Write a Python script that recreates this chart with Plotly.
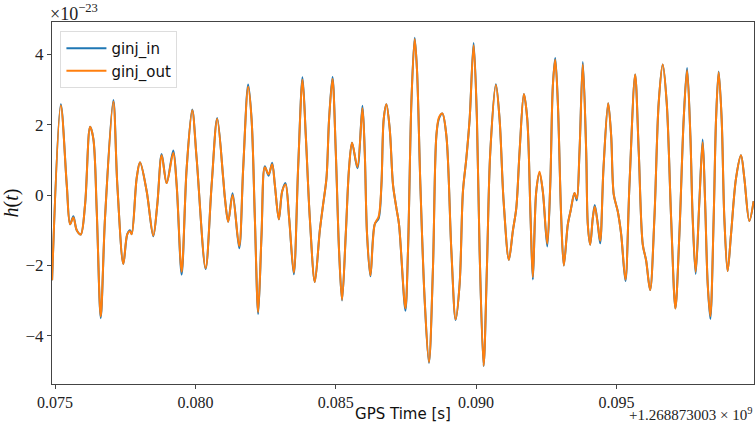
import plotly.graph_objects as go

# GPS time offset from 1268873003 s
t = [0.074893, 0.075203, 0.075416, 0.075534, 0.075651, 0.075772, 0.075915, 0.076068, 0.076246, 0.076363,
     0.076484, 0.076626, 0.076779, 0.077075, 0.077217, 0.077431, 0.077573, 0.077669, 0.07773, 0.077907,
     0.078025, 0.078263, 0.078498, 0.078641, 0.078797, 0.078975, 0.07921, 0.079331, 0.079509, 0.079687,
     0.079886, 0.080043, 0.080363, 0.080577, 0.080776, 0.080989, 0.08105, 0.081167, 0.081324, 0.081559,
     0.081701, 0.081879, 0.082, 0.082117, 0.082235, 0.082356, 0.082473, 0.082605, 0.082733, 0.082829,
     0.082972, 0.083089, 0.08321, 0.083338, 0.083505, 0.083658, 0.083815, 0.083932, 0.084075, 0.084253,
     0.084431, 0.084548, 0.084669, 0.084762, 0.084883, 0.085, 0.085117, 0.085224, 0.085356, 0.085473,
     0.08558, 0.085772, 0.08595, 0.086032, 0.086114, 0.086235, 0.086388, 0.08653, 0.086626, 0.086708,
     0.086804, 0.086922, 0.087039, 0.08716, 0.087253, 0.08748, 0.087573, 0.087694, 0.087811, 0.087893,
     0.088014, 0.088167, 0.08832, 0.088463, 0.088584, 0.088676, 0.088797, 0.08894, 0.089118, 0.08927,
     0.089413, 0.08953, 0.089651, 0.089769, 0.089911, 0.090029, 0.090124, 0.090267, 0.090385, 0.090505,
     0.090705, 0.090836, 0.090979, 0.091167, 0.09131, 0.091431, 0.091548, 0.091701, 0.091822, 0.09194,
     0.092022, 0.092142, 0.09226, 0.092377, 0.092534, 0.092641, 0.092733, 0.092819, 0.092911, 0.093032,
     0.093125, 0.093267, 0.093363, 0.093505, 0.093587, 0.093683, 0.093801, 0.093922, 0.093979, 0.094064,
     0.094157, 0.094228, 0.094335, 0.09442, 0.094537, 0.094705, 0.094811, 0.094904, 0.095046, 0.095167,
     0.09532, 0.095463, 0.095665, 0.095794, 0.095936, 0.096057, 0.096199, 0.096352, 0.096505, 0.096648,
     0.09679, 0.096947, 0.0971, 0.097242, 0.097395, 0.097516, 0.097633, 0.097715, 0.097822, 0.097954,
     0.098071, 0.098157, 0.09825, 0.098345, 0.098463, 0.098548, 0.098641, 0.098748, 0.098843, 0.09896,
     0.099082, 0.09926, 0.099438, 0.099555, 0.099733, 0.099887]

# strain, units of 1e-23
ginj_out = [-2.42, 2.55, 0.29, -0.83, -0.64, -1.0, -1.12, -0.27, 1.94, 1.6,
            -0.45, -3.45, -0.65, 2.66, 0.29, -1.96, -1.11, -1.03, -1.11, 0.48,
            0.93, 0.11, -1.15, -0.27, 1.13, 0.34, 1.2, 0.29, -2.18, 0.76,
            2.41, 1.04, -2.08, 0.29, 2.17, 0.48, -0.08, -0.76, 0.0, -1.45,
            0.76, 3.08, 2.16, -0.65, -3.33, -1.11, 0.79, 0.59, 0.88, 0.29,
            -0.69, 0.1, 0.3, -0.65, -2.2, 0.76, 3.28, 1.69, -0.65, -2.47,
            -1.01, -0.27, 0.48, 2.16, 3.3, 1.23, -1.58, -2.98, -1.11, 0.76,
            1.49, 0.8, 2.47, 1.23, -1.11, -2.28, -0.83, -0.6, 0.29, 2.16,
            2.58, 1.88, 0.29, -0.37, -0.83, -3.22, -1.58, 2.64, 4.44, 3.57,
            0.29, -2.98, -4.75, -2.05, 1.69, 2.21, 2.32, 1.69, -1.58, -3.53,
            -2.52, 0.1, 1.04, 2.16, 4.26, 2.16, -1.58, -4.85, -2.05, 1.23,
            3.13, 2.16, -0.17, -1.84, -1.01, -0.37, 1.23, 2.87, 2.16, -0.65,
            -2.33, 0.1, 0.66, 0.1, -1.38, 0.29, 3.1, 3.85, 2.63, -0.65,
            -2.0, -0.83, -0.46, 0.06, -0.1, 1.23, 3.72, 1.23, -0.83, -1.41,
            -0.65, -0.33, -0.83, -1.3, 0.76, 2.61, 1.69, 0.01, -0.46, -1.11,
            -2.4, 0.29, 3.43, 1.23, -1.4, -1.86, -2.7, -0.65, 2.63, 3.71,
            2.63, -0.65, -3.22, -1.11, 2.16, 3.55, 1.69, -0.65, -2.18, -0.17,
            1.5, -0.17, -2.52, -3.44, -0.65, 2.16, 3.49, 2.16, -0.65, -2.16,
            -1.11, 0.48, 1.13, 0.48, -0.74, -0.17]

ginj_in = [-2.42, 2.58, 0.29, -0.83, -0.6, -1.0, -1.12, -0.27, 1.94, 1.6,
           -0.45, -3.5, -0.65, 2.7, 0.29, -1.96, -1.11, -1.0, -1.11, 0.48,
           0.93, 0.11, -1.17, -0.27, 1.17, 0.34, 1.27, 0.29, -2.26, 0.76,
           2.43, 1.04, -2.1, 0.29, 2.19, 0.48, -0.08, -0.76, 0.05, -1.51,
           0.76, 3.14, 2.16, -0.65, -3.38, -1.11, 0.82, 0.55, 0.92, 0.29,
           -0.69, 0.1, 0.34, -0.65, -2.25, 0.76, 3.35, 1.69, -0.65, -2.47,
           -1.01, -0.27, 0.48, 2.16, 3.36, 1.23, -1.58, -3.0, -1.11, 0.76,
           1.49, 0.76, 2.54, 1.23, -1.11, -2.31, -0.83, -0.66, 0.29, 2.16,
           2.58, 1.88, 0.29, -0.37, -0.83, -3.29, -1.58, 2.64, 4.47, 3.57,
           0.29, -2.98, -4.77, -2.05, 1.69, 2.17, 2.32, 1.69, -1.58, -3.55,
           -2.52, 0.1, 1.04, 2.16, 4.32, 2.16, -1.58, -4.86, -2.05, 1.23,
           3.15, 2.16, -0.17, -1.84, -1.01, -0.37, 1.23, 2.87, 2.16, -0.65,
           -2.4, 0.1, 0.62, 0.1, -1.46, 0.29, 3.1, 3.9, 2.63, -0.65,
           -2.0, -0.83, -0.46, 0.06, -0.15, 1.23, 3.78, 1.23, -0.83, -1.41,
           -0.65, -0.28, -0.83, -1.37, 0.76, 2.61, 1.69, 0.01, -0.46, -1.11,
           -2.44, 0.29, 3.43, 1.23, -1.4, -1.86, -2.7, -0.65, 2.63, 3.71,
           2.63, -0.65, -3.22, -1.11, 2.16, 3.61, 1.69, -0.65, -2.24, -0.17,
           1.58, -0.17, -2.52, -3.52, -0.65, 2.16, 3.51, 2.16, -0.65, -2.16,
           -1.11, 0.48, 1.13, 0.48, -0.74, -0.17]

x_ticks = [0.075, 0.080, 0.085, 0.090, 0.095]
x_tick_labels = ["0.075", "0.080", "0.085", "0.090", "0.095"]
y_ticks = [-4, -2, 0, 2, 4]
y_tick_labels = ["−4", "−2", "0", "2", "4"]

serif = "Liberation Serif, DejaVu Serif, serif"
sans = "DejaVu Sans, Open Sans, sans-serif"

fig = go.Figure()
fig.add_trace(go.Scatter(x=t, y=ginj_in, mode="lines", name="ginj_in",
                         line=dict(color="#1f77b4", width=2, shape="spline", smoothing=0.9)))
fig.add_trace(go.Scatter(x=t, y=ginj_out, mode="lines", name="ginj_out",
                         line=dict(color="#ff7f0e", width=2, shape="spline", smoothing=0.9)))

axis_common = dict(showline=True, linecolor="#444", linewidth=1, mirror=True,
                   ticks="outside", ticklen=4, tickcolor="#444", showgrid=False,
                   zeroline=False)

fig.update_layout(
    width=756, height=423,
    margin=dict(l=52, r=1, t=22, b=35),
    paper_bgcolor="white", plot_bgcolor="white",
    showlegend=True,
    legend=dict(x=0.012, y=0.975, xanchor="left", yanchor="top",
                bgcolor="rgba(255,255,255,0.85)", bordercolor="#ddd", borderwidth=1,
                font=dict(family=sans, size=15, color="#111"),
                itemwidth=40, tracegroupgap=2),
    xaxis=dict(range=[0.07489, 0.0999], tickvals=x_ticks, ticktext=x_tick_labels,
               tickfont=dict(family=serif, size=16, color="#222"),
               title=dict(text="GPS Time [s]", font=dict(family=sans, size=15, color="#111"),
                          standoff=0), **axis_common),
    yaxis=dict(range=[-5.37, 4.92], tickvals=y_ticks, ticktext=y_tick_labels,
               tickfont=dict(family=serif, size=17, color="#222"),
               title=dict(text="<i>h</i>(<i>t</i>)", font=dict(family=serif, size=20, color="#111"),
                          standoff=8), **axis_common),
)

fig.add_annotation(xref="paper", yref="paper", x=0.0, y=1.0, xanchor="left", yanchor="bottom",
                   text="×10<sup>−23</sup>", showarrow=False, yshift=-4, xshift=-4,
                   font=dict(family=serif, size=18, color="#222"))
fig.add_annotation(xref="paper", yref="paper", x=1.0, y=0.0, xanchor="right", yanchor="top",
                   text="+1.268873003 × 10<sup>9</sup>", showarrow=False, yshift=-19,
                   font=dict(family=serif, size=15, color="#222"))

fig.write_html("out.html")
